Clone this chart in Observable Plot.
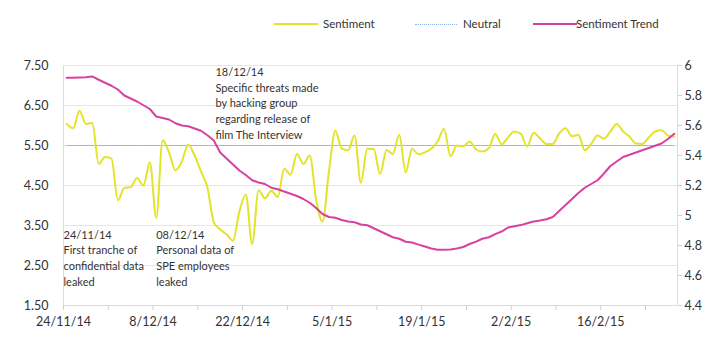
<!DOCTYPE html>
<html><head><meta charset="utf-8">
<script src="https://cdn.jsdelivr.net/npm/d3@7"></script>
<script src="https://cdn.jsdelivr.net/npm/@observablehq/plot@0.6"></script>
<style>
body{margin:0;background:#fff;font-family:Lato,sans-serif;}
#legend{position:relative;width:722px;height:50px;font-size:11.5px;color:#333;}
.sw{position:absolute;top:24px;height:0;}
.lb{position:absolute;top:16px;line-height:16px;white-space:nowrap;}
</style></head><body>
<div id="legend"></div>
<div id="chart"></div>
<script>
// Daily sentiment (left axis), 24/11/14 .. 27/2/15
const sentiment = [
 6.04,5.93,6.37,6.04,6.06,5.04,5.21,5.17,4.13,4.44,
 4.46,4.69,4.50,5.08,3.69,5.63,5.33,4.88,5.10,5.52,
 5.25,4.85,4.45,3.58,3.40,3.28,3.12,3.85,4.27,3.04,
 4.38,4.18,4.37,4.21,4.92,4.77,5.29,5.04,5.25,4.15,
 3.60,4.85,5.87,5.42,5.38,5.75,4.57,5.42,5.41,4.78,
 5.39,5.29,5.77,4.83,5.42,5.28,5.33,5.42,5.60,5.92,
 5.23,5.50,5.48,5.60,5.40,5.35,5.43,5.79,5.53,5.70,
 5.85,5.79,5.48,5.82,5.68,5.54,5.54,5.80,5.93,5.73,
 5.77,5.38,5.54,5.75,5.67,5.85,6.04,5.85,5.72,5.55,
 5.54,5.70,5.85,5.88,5.75,5.72
];
// Daily sentiment trend (right axis)
const trend = [
 5.918,5.918,5.920,5.922,5.927,5.905,5.885,5.865,5.840,5.800,
 5.780,5.760,5.735,5.710,5.660,5.650,5.640,5.615,5.600,5.595,
 5.580,5.565,5.535,5.500,5.420,5.380,5.340,5.300,5.270,5.235,
 5.220,5.210,5.185,5.175,5.160,5.145,5.130,5.110,5.085,5.050,
 5.010,4.990,4.985,4.970,4.960,4.955,4.940,4.935,4.915,4.895,
 4.875,4.855,4.845,4.825,4.820,4.806,4.793,4.780,4.772,4.772,
 4.774,4.780,4.790,4.810,4.826,4.845,4.855,4.876,4.893,4.920,
 4.929,4.936,4.948,4.960,4.966,4.975,4.990,5.030,5.070,5.110,
 5.150,5.185,5.210,5.235,5.280,5.330,5.360,5.390,5.405,5.420,
 5.435,5.450,5.465,5.480,5.510,5.545
];
const neutral = 5.5;
const leftTicks = [1.5,2.5,3.5,4.5,5.5,6.5,7.5];
const rightTicks = [4.4,4.6,4.8,5.0,5.2,5.4,5.6,5.8,6.0];
const rightTickLabels = ["4.4","4.6","4.8","5","5.2","5.4","5.6","5.8","6"];
const xTickLabels = ["24/11/14","8/12/14","22/12/14","5/1/15","19/1/15","2/2/15","16/2/15"];
const noteDates = ["2014-11-24T00:00Z","2014-12-08T12:00Z","2014-12-17T18:00Z"];
const noteTexts = [
 "24/11/14\nFirst tranche of\nconfidential data\nleaked",
 "08/12/14\nPersonal data of\nSPE employees\nleaked",
 "18/12/14\nSpecific threats made\nby hacking group\nregarding release of\nfilm The Interview"
];
const noteLevels = [3.45, 3.45, 7.52];
const seriesNames = ["Sentiment","Neutral","Sentiment Trend"];
const colors = {sent:"#e3e42a", neutral:"#8ab4e8", trend:"#d8419f"};

const DAY = 864e5;
const start = Date.UTC(2014,10,24);
const end = start + 96*DAY;
const dates = sentiment.map((_, i) => new Date(start + (i + 0.5)*DAY));
const sentData = sentiment.map((v,i) => ({date: dates[i], v}));
const lo = 1.5, hi = 7.5, rlo = 4.4, rhi = 6.0;
const toLeft = v => lo + (v - rlo) * (hi - lo) / (rhi - rlo);
const trendData = trend.map((v,i) => ({date: dates[i], v: toLeft(v)}));
const parseLabel = s => { const [d,m,y] = s.split("/").map(Number); return new Date(Date.UTC(2000+y, m-1, d)); };
const labelDates = xTickLabels.map(parseLabel);
const weekDates = labelDates.flatMap(d => [d, new Date(+d + 7*DAY)]).filter(d => +d <= end);
const notes = noteDates.map((d,i) => ({date: new Date(d), text: noteTexts[i], y: noteLevels[i]}));
const fmtLabel = d => xTickLabels[labelDates.findIndex(t => +t === +d)] ?? "";
const fmtRight = d => rightTickLabels[rightTicks.findIndex(t => Math.abs(toLeft(t) - d) < 1e-6)] ?? "";

const chart = Plot.plot({
  width: 722, height: 300,
  marginTop: 15, marginBottom: 45, marginLeft: 63, marginRight: 45,
  style: {fontFamily: "Lato, sans-serif", fontSize: "12px", color: "#333", background: "#fff"},
  x: {type: "utc", domain: [new Date(start), new Date(end)], label: null},
  y: {domain: [lo, hi], label: null},
  marks: [
    Plot.gridY(leftTicks, {stroke: "#e6e6e6", strokeOpacity: 1}),
    Plot.ruleX([new Date(start), new Date(end)], {stroke: "#dcdcdc"}),
    Plot.ruleY([lo], {stroke: "#dcdcdc"}),
    Plot.axisY(leftTicks, {anchor: "left", tickSize: 0, tickPadding: 15, tickFormat: d3.format(".2f"), fill: "#333", fontSize: 12.5, label: null}),
    Plot.axisY(rightTicks.map(toLeft), {anchor: "right", tickSize: 4, tickPadding: 3, stroke: "#cfcfcf", fill: "#333", fontSize: 12.5, tickFormat: fmtRight, label: null}),
    Plot.axisX(weekDates, {tickSize: 5, stroke: "#cfcfcf", tickFormat: () => "", label: null}),
    Plot.axisX(labelDates, {tickSize: 0, tickPadding: 12, tickFormat: fmtLabel, fill: "#333", fontSize: 12.5, label: null}),
    Plot.lineY(dates, {x: d => d, y: () => neutral, stroke: colors.neutral, strokeWidth: 1, strokeDasharray: "1,1"}),
    Plot.line(sentData, {x: "date", y: "v", stroke: colors.sent, strokeWidth: 2, curve: "monotone-x"}),
    Plot.line(trendData, {x: "date", y: "v", stroke: colors.trend, strokeWidth: 2}),
    Plot.text(notes, {x: "date", y: "y", text: "text", textAnchor: "start", lineAnchor: "top", lineHeight: 1.43, fontSize: 11, fill: "#333"})
  ]
});
document.getElementById("chart").appendChild(chart);

// Legend
const legend = document.getElementById("legend");
const items = [
  {name: seriesNames[0], sw: 274, w: 44, lb: 323, style: `border-top:2px solid ${colors.sent};margin-top:-1px`},
  {name: seriesNames[1], sw: 415, w: 42, lb: 463, style: `border-top:1px dotted ${colors.neutral}`},
  {name: seriesNames[2], sw: 533, w: 44, lb: 576, style: `border-top:2px solid ${colors.trend};margin-top:-1px`}
];
for (const it of items) {
  const s = document.createElement("div");
  s.className = "sw"; s.style.cssText = `left:${it.sw}px;width:${it.w}px;${it.style}`;
  legend.appendChild(s);
  const t = document.createElement("div");
  t.className = "lb"; t.style.left = it.lb + "px"; t.textContent = it.name;
  legend.appendChild(t);
}
</script></body></html>
